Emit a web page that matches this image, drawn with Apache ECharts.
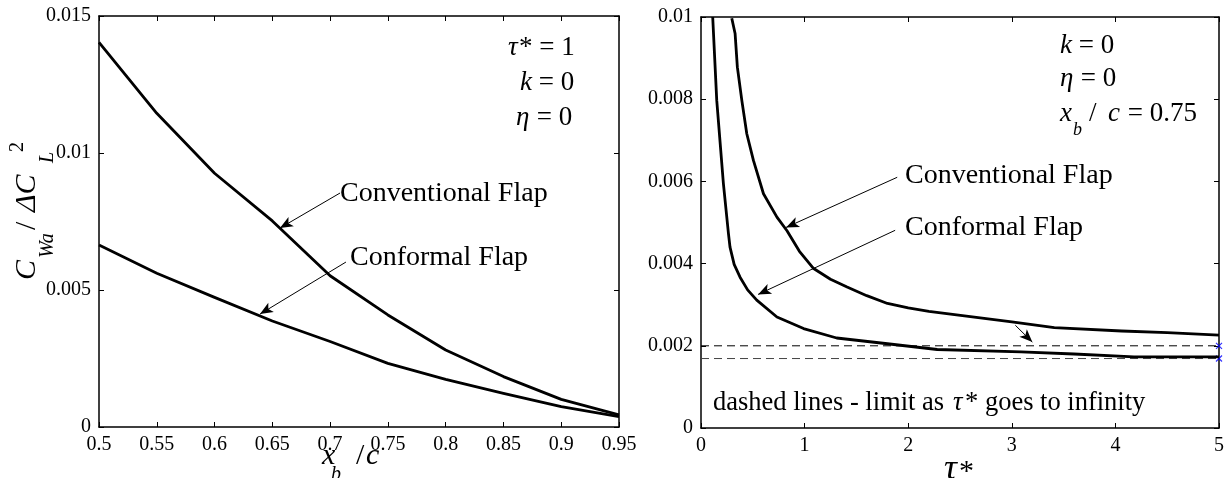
<!DOCTYPE html>
<html>
<head>
<meta charset="utf-8">
<script src="https://cdn.jsdelivr.net/npm/echarts@6.0.0/dist/echarts.min.js"></script>
<style>
  html, body { margin: 0; padding: 0; background: #fff; }
  #chart { width: 1227px; height: 478px; }
</style>
</head>
<body>
<div id="chart"></div>
<script>
// left panel: C_Wa / dCL^2 against hinge position x_b/c  (tau* = 1, k = 0, eta = 0)
const xbc = [0.5, 0.55, 0.6, 0.65, 0.7, 0.75, 0.8, 0.85, 0.9, 0.95];
const convLeft = [0.01404, 0.01145, 0.00926, 0.00752, 0.00552, 0.00409, 0.00281, 0.00184, 0.00101, 0.00044];
const confLeft = [0.00664, 0.00561, 0.00473, 0.00387, 0.00312, 0.00232, 0.00174, 0.00123, 0.00074, 0.00038];

// right panel: against tau*  (k = 0, eta = 0, x_b/c = 0.75)
const tauConv = [0.297, 0.329, 0.351, 0.394, 0.442, 0.506, 0.603, 0.733, 0.83, 0.95, 1.087, 1.25, 1.41, 1.6, 1.8, 2.0, 2.2, 2.6, 3.0, 3.41, 4.06, 4.5, 5.0];
const convRight = [0.00997, 0.0096, 0.00878, 0.00797, 0.00716, 0.00651, 0.0057, 0.00513, 0.0048, 0.0043, 0.00388, 0.00362, 0.00343, 0.00322, 0.00303, 0.00292, 0.00284, 0.00271, 0.00258, 0.00244, 0.00236, 0.00232, 0.00226];
const tauConf = [0.113, 0.152, 0.216, 0.265, 0.28, 0.32, 0.377, 0.45, 0.538, 0.733, 0.99, 1.31, 1.8, 2.28, 3.09, 3.6, 4.18, 5.0];
const confRight = [0.0100, 0.00797, 0.00595, 0.00473, 0.0044, 0.00398, 0.00367, 0.00336, 0.00311, 0.0027, 0.00242, 0.00219, 0.00205, 0.00191, 0.00185, 0.0018, 0.00173, 0.00173];

// limits as tau* -> infinity
const limitConv = 0.0020;
const limitConf = 0.00169;

// tick setup
const leftX = { min: 0.5, max: 0.95, interval: 0.05 };
const leftY = { min: 0, max: 0.015, interval: 0.005 };
const rightX = { min: 0, max: 5, interval: 1 };
const rightY = { min: 0, max: 0.01, interval: 0.002 };

const FONT = '"Liberation Serif", "Times New Roman", serif';

const zip = (xs, ys) => xs.map((x, i) => [x, ys[i]]);

function axis(grid, pos, range, labels) {
  return {
    type: 'value', gridIndex: grid, position: pos,
    min: range.min, max: range.max, interval: range.interval,
    axisLine: { show: true, onZero: false, lineStyle: { color: '#000', width: 1.5 } },
    axisTick: { show: true, inside: true, length: 5, lineStyle: { color: '#000', width: 1 } },
    axisLabel: { show: labels, color: '#000', fontFamily: FONT, fontSize: 20, margin: 8 },
    splitLine: { show: false }
  };
}

// annotation arrows, in data coordinates
function arrows(lines) {
  return {
    silent: true, animation: false,
    symbol: ['none', 'arrow'], symbolSize: 11,
    label: { show: false },
    lineStyle: { color: '#000', width: 1, type: 'solid', opacity: 1 },
    itemStyle: { color: '#000' },
    emphasis: { disabled: true },
    data: lines.map(l => [
      { coord: l[0], symbol: 'none' },
      { coord: l[1], symbol: 'arrow', symbolSize: [8, 13] }
    ])
  };
}

function curve(xi, yi, data, ml) {
  const s = {
    type: 'line', xAxisIndex: xi, yAxisIndex: yi, data: data,
    showSymbol: false, smooth: false, clip: true,
    lineStyle: { color: '#000', width: 2.8, join: 'round' },
    itemStyle: { color: '#000' },
    emphasis: { disabled: true }, animation: false
  };
  if (ml) s.markLine = ml;
  return s;
}

function dashed(val, color) {
  return {
    type: 'line', xAxisIndex: 2, yAxisIndex: 2,
    data: [[rightX.min, val], [rightX.max, val]],
    showSymbol: false, lineStyle: { color: color, width: 1, type: [8, 5] },
    emphasis: { disabled: true }, animation: false
  };
}

// text helper: base is the baseline
function t(x, base, text, size, italic, align) {
  return {
    type: 'text', x: x, y: base - 0.34 * size, silent: true,
    style: {
      text: text, fill: '#000',
      font: (italic ? 'italic ' : '') + size + 'px ' + FONT,
      align: align || 'left', verticalAlign: 'middle',
      textAlign: align || 'left', textVerticalAlign: 'middle'
    }
  };
}

const chart = echarts.init(document.getElementById('chart'), null, { renderer: 'canvas' });

const option = {
  backgroundColor: '#fff',
  animation: false,
  grid: [
    { left: 99, top: 16, width: 520, height: 411 },
    { left: 701, top: 17, width: 518, height: 411 }
  ],
  xAxis: [
    axis(0, 'bottom', leftX, true),
    axis(0, 'top', leftX, false),
    axis(1, 'bottom', rightX, true),
    axis(1, 'top', rightX, false)
  ],
  yAxis: [
    axis(0, 'left', leftY, true),
    axis(0, 'right', leftY, false),
    axis(1, 'left', rightY, true),
    axis(1, 'right', rightY, false)
  ],
  series: [
    curve(0, 0, zip(xbc, convLeft), arrows([[[0.7086, 0.00854], [0.6566, 0.00726]]])),
    curve(0, 0, zip(xbc, confLeft), arrows([[[0.7137, 0.00602], [0.6393, 0.00412]]])),
    dashed(limitConv, '#000'),
    dashed(limitConf, '#444'),
    curve(2, 2, zip(tauConv, convRight), arrows([
      [[1.894, 0.0061], [0.821, 0.00488]],
      [[3.034, 0.0025], [3.198, 0.00209]]
    ])),
    curve(2, 2, zip(tauConf, confRight), arrows([[[1.874, 0.00481], [0.551, 0.00325]]])),
    {
      type: 'scatter', xAxisIndex: 2, yAxisIndex: 2, clip: false,
      data: [[rightX.max, limitConv], [rightX.max, limitConf]],
      symbol: 'path://M0,0L10,10M10,0L0,10', symbolSize: 6,
      itemStyle: { color: 'none', borderColor: '#0000ff', borderWidth: 1.2 },
      emphasis: { disabled: true }, animation: false
    }
  ],
  graphic: [
    // left panel parameters
    t(508, 57, 'τ', 27, true), t(519, 57, '* = 1', 27, false),
    t(520, 92, 'k', 27, true), t(532, 92, ' = 0', 27, false),
    t(516, 127, 'η', 27, true), t(530, 127, ' = 0', 27, false),
    t(340, 203, 'Conventional Flap', 28, false),
    t(350, 267, 'Conformal Flap', 28, false),
    // right panel parameters
    t(1060, 55, 'k', 27, true), t(1072, 55, ' = 0', 27, false),
    t(1060, 88, 'η', 27, true), t(1074, 88, ' = 0', 27, false),
    t(1060, 123, 'x', 27, true), t(1073, 136, 'b', 18, true),
    t(1089, 123, '/', 27, false), t(1108, 123, 'c', 27, true), t(1121, 123, ' = 0.75', 27, false),
    t(905, 185, 'Conventional Flap', 28, false),
    t(905, 237, 'Conformal Flap', 28, false),
    t(713, 412, 'dashed lines - limit as', 26.5, false),
    t(953, 412, 'τ', 26.5, true), t(965, 412, '* goes to infinity', 26.5, false),
    // axis titles
    t(322, 466, 'x', 30, true), t(331, 482, 'b', 20, true),
    t(356, 466, '/', 30, false), t(366, 466, 'c', 30, true),
    t(944, 482, 'τ', 36, true), t(959, 482, '*', 30, false),
    {
      type: 'group', x: 37, y: 280, rotation: Math.PI / 2,
      children: [
        t(0, 0, 'C', 30, true),
        t(22, 18, 'Wa', 20, true),
        t(50, 0, '/', 30, false),
        t(68, 0, 'ΔC', 30, true),
        t(117, 18, 'L', 20, true),
        t(128, -12, '2', 20, false)
      ]
    }
  ]
};

chart.setOption(option);
</script>
</body>
</html>
